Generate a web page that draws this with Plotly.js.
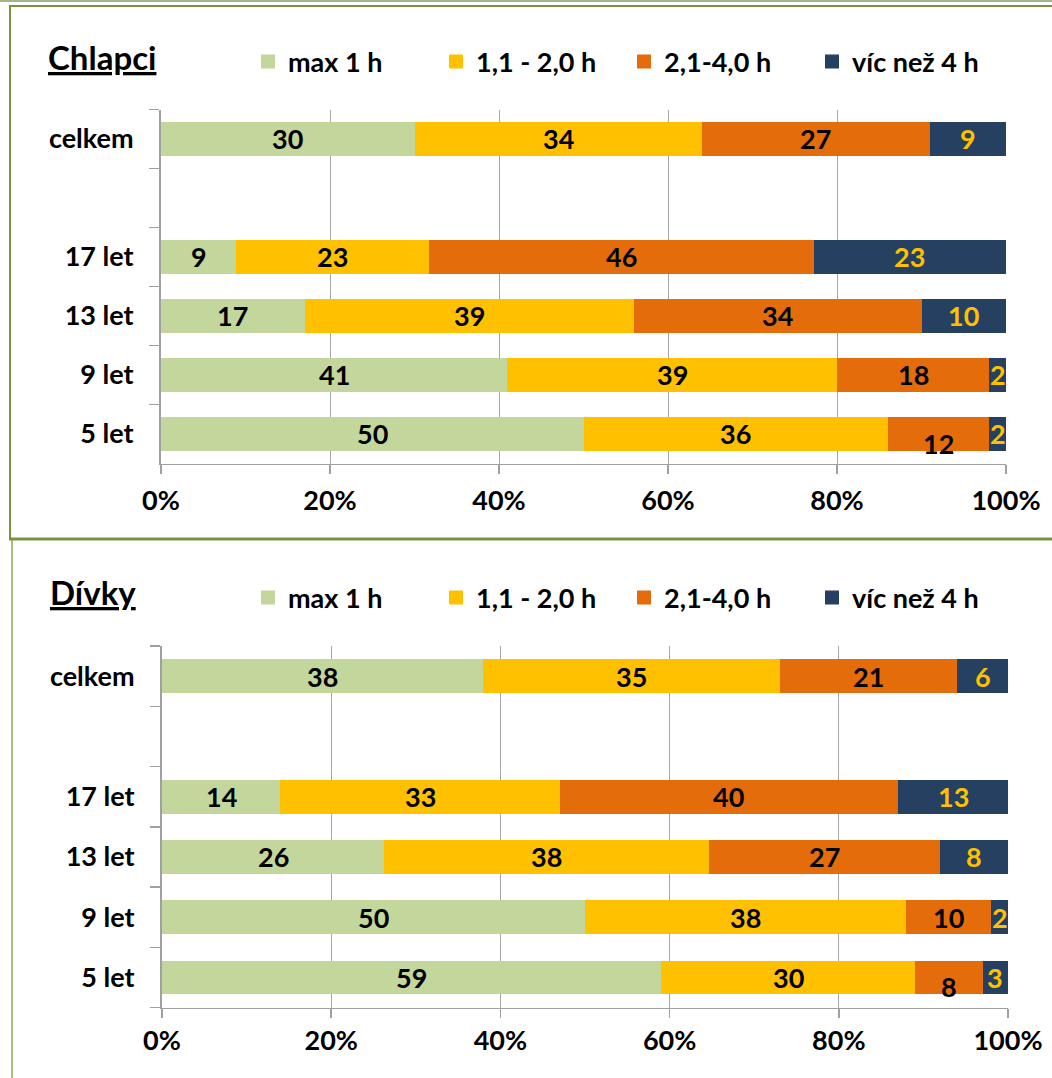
<!DOCTYPE html>
<html>
<head>
<meta charset="utf-8">
<script src="https://cdn.plot.ly/plotly-3.0.1.min.js"></script>
<style>
  html, body { margin: 0; padding: 0; background: #ffffff; }
  #chart { width: 1052px; height: 1078px; }
</style>
</head>
<body>
<div id="chart"></div>
<script>
// ---------- DATA ----------
const categories = ['celkem', ' ', '17 let', '13 let', '9 let', '5 let'];
const seriesNames = ['max 1 h', '1,1 - 2,0 h', '2,1-4,0 h', 'víc než 4 h'];

// Chlapci (boys)
const boysMax1  = [30, null,  9, 17, 41, 50];
const boys1to2  = [34, null, 23, 39, 39, 36];
const boys2to4  = [27, null, 46, 34, 18, 12];
const boysOver4 = [ 9, null, 23, 10,  2,  2];

// Dívky (girls)
const girlsMax1  = [38, null, 14, 26, 50, 59];
const girls1to2  = [35, null, 33, 38, 38, 30];
const girls2to4  = [21, null, 40, 27, 10,  8];
const girlsOver4 = [ 6, null, 13,  8,  2,  3];

const xTickVals = [0, 20, 40, 60, 80, 100];
const xTickText = ['0%', '20%', '40%', '60%', '80%', '100%'];

// ---------- STYLE ----------
const W = 1052, H = 1078;
const px = v => v / W;
const py = v => 1 - v / H;
const colors = ['#C3D69B', '#FFC000', '#E46C0A', '#254061'];
const labelColors = ['#000000', '#000000', '#000000', '#FFC000'];
const FONT = 'Lato, "Open Sans", sans-serif';
const gridGray = '#A6A6A6';
const axisGray = '#A0A0A0';
// labels Excel pushed downward (panel|row|series)
const labelShift = { 'b|5 let|2': -10, 'g|5 let|2': -9 };

const boysSeries = [boysMax1, boys1to2, boys2to4, boysOver4];
const girlsSeries = [girlsMax1, girls1to2, girls2to4, girlsOver4];

const traces = [];
const annotations = [];

function addPanel(series, xa, ya, legendId, key) {
  series.forEach((vals, s) => {
    traces.push({
      type: 'bar', orientation: 'h',
      x: vals, y: categories,
      name: seriesNames[s],
      marker: { color: colors[s], line: { width: 0 } },
      xaxis: xa, yaxis: ya, legend: legendId, showlegend: false,
      hoverinfo: 'skip'
    });
  });
  // legend keys (square swatches, no data points)
  series.forEach((vals, s) => {
    traces.push({
      type: 'scatter', mode: 'markers',
      x: [null], y: [null],
      name: seriesNames[s],
      marker: { color: colors[s], symbol: 'square', size: 14, line: { width: 0 } },
      xaxis: xa, yaxis: ya, legend: legendId, showlegend: true,
      hoverinfo: 'skip'
    });
  });
  categories.forEach((cat, r) => {
    const rowVals = series.map(v => v[r]);
    if (rowVals.some(v => v === null)) return;
    const total = rowVals.reduce((a, b) => a + b, 0);
    let cum = 0;
    rowVals.forEach((v, s) => {
      const mid = (cum + v / 2) / total * 100;
      cum += v;
      annotations.push({
        x: mid, y: cat, xref: xa, yref: ya,
        text: String(v), showarrow: false,
        xanchor: 'center', yanchor: 'middle',
        yshift: labelShift[key + '|' + cat + '|' + s] || 0,
        font: { family: FONT, size: 27, color: labelColors[s], weight: 'bold' }
      });
    });
  });
}

addPanel(boysSeries, 'x', 'y', 'legend', 'b');
addPanel(girlsSeries, 'x2', 'y2', 'legend2', 'g');

// Titles
annotations.push({
  xref: 'paper', yref: 'paper', x: px(46), y: py(57),
  xanchor: 'left', yanchor: 'middle', showarrow: false,
  text: '<u>Chlapci</u>',
  font: { family: FONT, size: 33, color: '#000', weight: 'bold' }
});
annotations.push({
  xref: 'paper', yref: 'paper', x: px(48), y: py(592),
  xanchor: 'left', yanchor: 'middle', showarrow: false,
  text: '<u>Dívky</u>',
  font: { family: FONT, size: 33, color: '#000', weight: 'bold' }
});

// Borders
const olive = '#77933C';
const shapes = [
  { type: 'line', xref: 'paper', yref: 'paper', x0: 0, x1: 1, y0: py(1), y1: py(1),
    line: { color: '#A3B58C', width: 2 } },
  { type: 'line', xref: 'paper', yref: 'paper', x0: px(9), x1: 1, y0: py(6), y1: py(6),
    line: { color: olive, width: 2 } },
  { type: 'line', xref: 'paper', yref: 'paper', x0: px(10), x1: px(10), y0: py(5), y1: py(540),
    line: { color: olive, width: 2 } },
  { type: 'line', xref: 'paper', yref: 'paper', x0: px(9), x1: 1, y0: py(539), y1: py(539),
    line: { color: olive, width: 3 } },
  { type: 'line', xref: 'paper', yref: 'paper', x0: px(12), x1: px(12), y0: py(540), y1: 0,
    line: { color: '#8DA65A', width: 1.5 } }
];

function xAxis(domain, anchor, standoff) {
  return {
    domain: domain, anchor: anchor, range: [0, 100], fixedrange: true,
    tickmode: 'array', tickvals: xTickVals, ticktext: xTickText,
    ticks: 'outside', ticklen: 9, tickwidth: 1.5, tickcolor: axisGray,
    showgrid: true, gridcolor: gridGray, gridwidth: 1,
    showline: true, linecolor: axisGray, linewidth: 1.5,
    zeroline: false, automargin: false, ticklabelstandoff: standoff,
    tickfont: { family: FONT, size: 27, color: '#000', weight: 'bold' }
  };
}
function yAxis(domain, anchor) {
  return {
    domain: domain, anchor: anchor, type: 'category', fixedrange: true,
    categoryorder: 'array', categoryarray: categories.slice().reverse(),
    range: [-0.5, categories.length - 0.5],
    ticks: 'outside', tickson: 'boundaries', ticklen: 10, tickwidth: 1.5, tickcolor: axisGray,
    showline: true, linecolor: axisGray, linewidth: 2,
    showgrid: false, zeroline: false, automargin: false, ticklabelstandoff: 20,
    tickfont: { family: FONT, size: 27, color: '#000', weight: 'bold' }
  };
}

function legendCfg(yPx) {
  return {
    orientation: 'h', x: px(248), xanchor: 'left', y: py(yPx), yanchor: 'middle',
    entrywidth: 143, entrywidthmode: 'pixels', traceorder: 'normal',
    itemsizing: 'trace',
    bgcolor: 'rgba(0,0,0,0)', borderwidth: 0,
    font: { family: FONT, size: 27, color: '#000', weight: 'bold' }
  };
}

const layout = {
  width: W, height: H,
  margin: { l: 0, r: 0, t: 0, b: 0, pad: 0 },
  paper_bgcolor: '#ffffff', plot_bgcolor: 'rgba(0,0,0,0)',
  font: { family: FONT, size: 27, color: '#000', weight: 'bold' },
  barmode: 'stack', barnorm: 'percent', bargap: 0.44,
  showlegend: true,
  legend: legendCfg(62),
  legend2: legendCfg(598),
  xaxis: xAxis([px(161), px(1006)], 'y', 4),
  yaxis: yAxis([py(463.5), py(109.5)], 'x'),
  xaxis2: xAxis([px(162), px(1008)], 'y2', 0),
  yaxis2: yAxis([py(1007.5), py(646)], 'x2'),
  annotations: annotations,
  shapes: shapes
};

Plotly.newPlot('chart', traces, layout, { displayModeBar: false, staticPlot: true });
</script>
</body>
</html>
